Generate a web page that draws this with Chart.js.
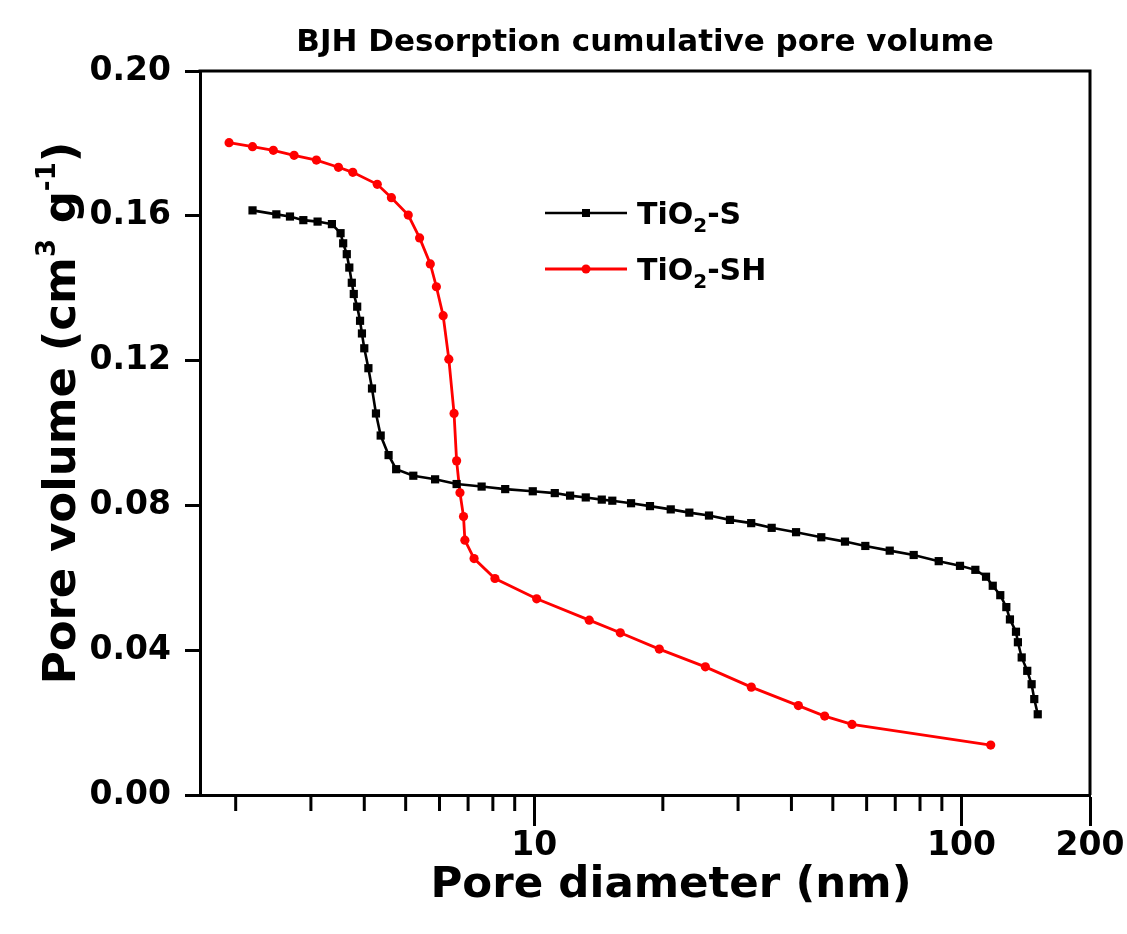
<!DOCTYPE html>
<html>
<head>
  <title>BJH Desorption cumulative pore volume</title>
  <script src="https://cdn.jsdelivr.net/npm/chart.js"></script>
  <style>
    body {
      margin: 0;
      background-color: #fff;
    }
    .chart-box {
      width: 1127px;
      height: 934px;
    }
  </style>
</head>
<body>
  <div class="chart-box">
    <canvas id="bjhChart" width="1127" height="934"></canvas>
  </div>

  <script>
    // TiO2-S (black squares)
    const sDiameter = [2.19, 2.49, 2.68, 2.88, 3.11, 3.36, 3.52, 3.57, 3.64, 3.69,
      3.74, 3.78, 3.85, 3.91, 3.95, 4.00, 4.09, 4.17, 4.26, 4.37,
      4.56, 4.75, 5.21, 5.86, 6.58, 7.53, 8.55, 9.92, 11.17, 12.13,
      13.20, 14.39, 15.23, 16.85, 18.66, 20.87, 23.07, 25.65, 28.72, 32.20,
      35.96, 41.01, 46.98, 53.39, 59.57, 67.95, 77.32, 88.49, 99.24, 107.8,
      114.2, 118.4, 123.3, 127.4, 129.9, 134.2, 135.6, 138.4, 142.6, 146.0,
      148.1, 150.9];
    const sVolume = [0.1615, 0.1604, 0.1598, 0.1588, 0.1584, 0.1577, 0.1552, 0.1524, 0.1494, 0.1457,
      0.1415, 0.1384, 0.1349, 0.1310, 0.1275, 0.1234, 0.1179, 0.1123, 0.1054, 0.0993,
      0.0939, 0.0900, 0.0882, 0.0872, 0.0859, 0.0852, 0.0845, 0.0839, 0.0834, 0.0827,
      0.0822, 0.0816, 0.0813, 0.0806, 0.0798, 0.0789, 0.0780, 0.0772, 0.0760, 0.0751,
      0.0738, 0.0726, 0.0712, 0.0700, 0.0688, 0.0675, 0.0663, 0.0646, 0.0633, 0.0622,
      0.0603, 0.0578, 0.0552, 0.0519, 0.0485, 0.0451, 0.0422, 0.0380, 0.0343, 0.0306,
      0.0265, 0.0223];

    // TiO2-SH (red circles)
    const shDiameter = [1.93, 2.19, 2.45, 2.74, 3.09, 3.48, 3.76, 4.29, 4.63, 5.07,
      5.39, 5.71, 5.90, 6.12, 6.31, 6.49, 6.58, 6.70, 6.83, 6.88,
      7.23, 8.09, 10.13, 13.45, 15.90, 19.62, 25.15, 32.22, 41.52, 47.85,
      55.44, 117.1];
    const shVolume = [0.1802, 0.1791, 0.1781, 0.1767, 0.1754, 0.1734, 0.1720, 0.1687, 0.1650, 0.1602,
      0.1539, 0.1467, 0.1404, 0.1324, 0.1204, 0.1054, 0.0923, 0.0835, 0.0769, 0.0704,
      0.0653, 0.0598, 0.0542, 0.0483, 0.0448, 0.0403, 0.0354, 0.0298, 0.0247, 0.0218,
      0.0195, 0.0138];

    const xTicks = [2, 3, 4, 5, 6, 7, 8, 9, 10, 20, 30, 40, 50, 60, 70, 80, 90, 100, 200];
    const xLabelTicks = [10, 100, 200];
    const yTicks = [0.00, 0.04, 0.08, 0.12, 0.16, 0.20];

    const FONT = "'DejaVu Sans', sans-serif";

    function toPoints(xs, ys) {
      return xs.map((x, i) => ({ x: x, y: ys[i] }));
    }

    // draws text pieces in a row, some of them smaller and shifted (super/subscripts)
    function drawPieces(ctx, parts, startX, baseY) {
      let cx = startX;
      parts.forEach(p => {
        ctx.font = 'bold ' + p.s + 'px ' + FONT;
        ctx.fillText(p.t, cx, baseY + p.dy);
        cx += ctx.measureText(p.t).width;
      });
    }

    function piecesWidth(ctx, parts) {
      let w = 0;
      parts.forEach(p => {
        ctx.font = 'bold ' + p.s + 'px ' + FONT;
        w += ctx.measureText(p.t).width;
      });
      return w;
    }

    // frame, minor ticks, titles, legend
    const decorPlugin = {
      id: 'decor',
      afterDraw(chart) {
        const ctx = chart.ctx;
        const area = chart.chartArea;
        const xs = chart.scales.x;
        ctx.save();
        ctx.strokeStyle = '#000';
        ctx.lineWidth = 3;
        ctx.beginPath();
        ctx.moveTo(area.left - 1.5, area.top);
        ctx.lineTo(area.right, area.top);
        ctx.lineTo(area.right, area.bottom);
        ctx.stroke();

        // minor x ticks
        xTicks.forEach(v => {
          if (xLabelTicks.includes(v)) return;
          const px = xs.getPixelForValue(v);
          ctx.beginPath();
          ctx.moveTo(px, area.bottom);
          ctx.lineTo(px, area.bottom + 16);
          ctx.stroke();
        });

        ctx.fillStyle = '#000';
        ctx.textBaseline = 'alphabetic';

        // chart title, centred over the plot area
        const tt = [{ t: 'BJH Desorption cumulative pore volume', s: 31, dy: 0 }];
        const midX = (area.left + area.right) / 2;
        drawPieces(ctx, tt, midX - piecesWidth(ctx, tt) / 2, 51);

        // x axis title
        const xt = [{ t: 'Pore diameter (nm)', s: 43.5, dy: 0 }];
        drawPieces(ctx, xt, 671 - piecesWidth(ctx, xt) / 2, 897);

        // y axis title
        const yt = [
          { t: 'Pore volume (cm', s: 45, dy: 0 },
          { t: '3', s: 26, dy: -20 },
          { t: ' g', s: 45, dy: 0 },
          { t: '-1', s: 26, dy: -20 },
          { t: ')', s: 45, dy: 0 }
        ];
        ctx.translate(75, 413);
        ctx.rotate(-Math.PI / 2);
        drawPieces(ctx, yt, -piecesWidth(ctx, yt) / 2, 0);
        ctx.setTransform(1, 0, 0, 1, 0, 0);

        // legend
        const rows = [213, 269];
        chart.data.datasets.forEach((ds, i) => {
          const y = rows[i];
          ctx.strokeStyle = ds.borderColor;
          ctx.lineWidth = ds.borderWidth;
          ctx.beginPath();
          ctx.moveTo(545, y);
          ctx.lineTo(627, y);
          ctx.stroke();
          ctx.fillStyle = ds.pointBackgroundColor;
          if (ds.pointStyle === 'rect') {
            ctx.fillRect(586 - 4, y - 4, 8, 8);
          } else {
            ctx.beginPath();
            ctx.arc(586, y, 4.5, 0, Math.PI * 2);
            ctx.fill();
          }
          ctx.fillStyle = '#000';
          const lt = [
            { t: 'TiO', s: 30, dy: 0 },
            { t: '2', s: 20, dy: 8 },
            { t: ds.label.slice(4), s: 30, dy: 0 }
          ];
          drawPieces(ctx, lt, 637, y + 11);
        });
        ctx.restore();
      }
    };

    function createChart() {
      const ctx = document.getElementById('bjhChart').getContext('2d');
      Chart.defaults.font.family = FONT;
      Chart.defaults.font.weight = 'bold';
      Chart.defaults.color = '#000';

      new Chart(ctx, {
        type: 'scatter',
        data: {
          datasets: [{
            label: 'TiO2-S',
            data: toPoints(sDiameter, sVolume),
            showLine: true,
            borderColor: '#000',
            borderWidth: 2.6,
            pointStyle: 'rect',
            pointRadius: 5.8,
            pointBorderWidth: 0,
            pointBackgroundColor: '#000',
            pointBorderColor: '#000'
          }, {
            label: 'TiO2-SH',
            data: toPoints(shDiameter, shVolume),
            showLine: true,
            borderColor: '#ff0000',
            borderWidth: 2.8,
            pointStyle: 'circle',
            pointRadius: 4.6,
            pointBorderWidth: 0,
            pointBackgroundColor: '#ff0000',
            pointBorderColor: '#ff0000'
          }]
        },
        options: {
          responsive: false,
          animation: false,
          layout: {
            padding: { left: 0, right: 37, top: 71, bottom: 0 }
          },
          plugins: {
            legend: { display: false },
            tooltip: { enabled: false },
            title: { display: false }
          },
          scales: {
            x: {
              type: 'logarithmic',
              min: 1.65,
              max: 200,
              afterBuildTicks: function(scale) {
                scale.ticks = xTicks.map(v => ({ value: v, major: xLabelTicks.includes(v) }));
              },
              afterFit: function(scale) {
                scale.height = 139;
              },
              ticks: {
                autoSkip: false,
                maxRotation: 0,
                padding: 1,
                font: { size: 33, weight: 'bold' },
                callback: function(value) {
                  return xLabelTicks.includes(value) ? String(value) : '';
                }
              },
              grid: {
                drawOnChartArea: false,
                drawTicks: true,
                tickLength: 31,
                tickWidth: 3,
                tickColor: function(c) {
                  return c.tick && xLabelTicks.includes(c.tick.value) ? '#000' : 'rgba(0,0,0,0)';
                }
              },
              border: { display: true, color: '#000', width: 3 }
            },
            y: {
              min: 0,
              max: 0.2,
              afterBuildTicks: function(scale) {
                scale.ticks = yTicks.map(v => ({ value: v }));
              },
              afterFit: function(scale) {
                scale.width = 200;
              },
              ticks: {
                padding: 14,
                font: { size: 33, weight: 'bold' },
                callback: function(value) {
                  return value.toFixed(2);
                }
              },
              grid: {
                drawOnChartArea: false,
                drawTicks: true,
                tickLength: 15,
                tickWidth: 3,
                tickColor: '#000'
              },
              border: { display: true, color: '#000', width: 3 }
            }
          }
        },
        plugins: [decorPlugin]
      });
    }

    window.onload = function() {
      createChart();
    };
  </script>
</body>
</html>
